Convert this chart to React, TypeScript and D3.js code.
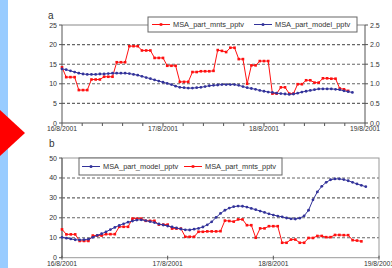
import * as d3 from 'd3';

// hourly values starting 16/8/2001 00:00
const mntsPptv = [
  14.2, 11.7, 11.7, 11.7, 8.4, 8.4, 8.4, 11.1, 11.1, 11.1, 11.8, 11.8, 11.8, 15.5, 15.5, 15.5,
  19.6, 19.6, 19.6, 18.5, 18.5, 18.5, 16.6, 16.6, 16.6, 14.6, 14.6, 14.6, 10.5, 10.5, 10.5,
  13.0, 13.0, 13.2, 13.2, 13.2, 13.3, 18.6, 18.4, 18.1, 19.2, 19.2, 16.3, 16.3, 10.0, 14.7,
  14.7, 15.8, 15.8, 15.8, 7.5, 7.5, 9.1, 9.1, 7.5, 7.5, 9.9, 9.9, 10.9, 10.9, 10.3, 10.3,
  11.4, 11.4, 11.3, 11.3, 8.8, 8.6, 8.2,
];

const modelA = [
  1.38, 1.36, 1.33, 1.3, 1.27, 1.25, 1.24, 1.24, 1.24, 1.25, 1.25, 1.26, 1.27, 1.27, 1.27, 1.27,
  1.26, 1.24, 1.22, 1.19, 1.16, 1.13, 1.1, 1.07, 1.04, 1.01, 0.98, 0.94, 0.91, 0.9, 0.89, 0.89,
  0.9, 0.91, 0.93, 0.95, 0.96, 0.97, 0.98, 0.98, 0.98, 0.98, 0.96, 0.93, 0.9, 0.88, 0.86, 0.83,
  0.81, 0.79, 0.78, 0.76, 0.75, 0.74, 0.73, 0.74, 0.76, 0.79, 0.81, 0.83, 0.85, 0.87, 0.87,
  0.87, 0.87, 0.86, 0.85, 0.82, 0.8, 0.78,
];

const modelB = [
  10.2, 9.8, 9.4, 9.0, 8.9, 9.0, 9.3, 10.2, 11.2, 12.0, 13.0, 14.1, 15.2, 16.2, 17.0, 17.8,
  18.4, 18.9, 19.0, 18.6, 18.1, 17.6, 16.9, 16.4, 15.9, 15.4, 14.9, 14.4, 14.0, 13.9, 14.3,
  14.7, 15.4, 16.5, 18.0, 20.2, 22.2, 23.8, 24.9, 25.6, 25.9, 25.8, 25.4, 24.7, 24.1, 23.4,
  22.7, 22.0, 21.4, 20.9, 20.5, 19.9, 19.5, 19.4, 19.8, 21.0, 23.8, 29.0, 33.0, 35.8, 37.8,
  39.1, 39.5, 39.5, 39.2, 38.6, 37.8, 37.0, 36.3, 35.6,
];

const dayLabels = ['16/8/2001', '17/8/2001', '18/8/2001', '19/8/2001'];
const leftTicksA = [0, 5, 10, 15, 20, 25];
const rightTicksA = [0, 0.5, 1.0, 1.5, 2.0, 2.5];
const leftTicksB = [0, 10, 20, 30, 40, 50];

const RED = '#ff1010';
const BLUE = '#33339a';
const GRID = '#666';
const AXIS = '#555';
const TXT = '#333';
const FONT = '"Liberation Sans", Arial, sans-serif';

const start = new Date(2001, 7, 16);
const hour = (h: number) => new Date(start.getTime() + h * 3600 * 1000);
const days = dayLabels.map((_, i) => hour(i * 24));
const minor = d3.range(0, 72.1, 4.8).map(hour);

function Series({ vals, x, y, color, marker }: any) {
  const line = d3.line<number>().x((_, i) => x(hour(i))).y((d) => y(d));
  return (
    <g>
      <path d={line(vals) || ''} fill="none" stroke={color} strokeWidth={1} />
      {vals.map((v: number, i: number) =>
        marker === 'sq' ? (
          <rect key={i} x={x(hour(i)) - 1.3} y={y(v) - 1.3} width={2.6} height={2.6} fill={color} />
        ) : (
          <circle key={i} cx={x(hour(i))} cy={y(v)} r={1.4} fill={color} />
        )
      )}
    </g>
  );
}

function LegendItem({ x, y, color, marker, label }: any) {
  return (
    <g>
      <line x1={x} x2={x + 18} y1={y} y2={y} stroke={color} strokeWidth={1} />
      {marker === 'sq' ? (
        <rect x={x + 7.7} y={y - 1.3} width={2.6} height={2.6} fill={color} />
      ) : (
        <circle cx={x + 9} cy={y} r={1.5} fill={color} />
      )}
      <text x={x + 21} y={y + 2.6} fontSize={7.4} fill={TXT}>{label}</text>
    </g>
  );
}

export default function App() {
  // panel a
  const xA = d3.scaleTime().domain([days[0], days[3]]).range([62, 365]);
  const yA = d3.scaleLinear().domain([0, 25]).range([123, 25]);
  const yA2 = d3.scaleLinear().domain([0, 2.5]).range([123, 25]);
  // panel b
  const xB = d3.scaleTime().domain([days[0], days[3]]).range([62, 379]);
  const yB = d3.scaleLinear().domain([0, 50]).range([257.7, 158]);

  return (
    <div style={{ position: 'absolute', left: 0, top: 0 }}>
      <svg width={392} height={268} style={{ display: 'block', fontFamily: FONT }}>
        <rect width={392} height={268} fill="#fff" />
        <rect x={0} y={0} width={8} height={268} fill="#99ccff" />
        <path d="M0,110 L25,133 L0,156 Z" fill="#ff0000" />

        {/* panel a */}
        <text x={48} y={19} fontSize={10} fill={TXT}>a</text>
        {leftTicksA.slice(1, -1).map((t) => (
          <line key={t} x1={62} x2={365} y1={yA(t)} y2={yA(t)} stroke={GRID} strokeWidth={1.1} strokeDasharray="3,2" />
        ))}
        <line x1={62} x2={365} y1={25} y2={25} stroke="#888" />
        <line x1={62} x2={365} y1={123} y2={123} stroke={AXIS} />
        <line x1={62} x2={62} y1={25} y2={123} stroke={AXIS} />
        <line x1={365} x2={365} y1={25} y2={123} stroke={AXIS} />
        {leftTicksA.map((t) => (
          <g key={t}>
            <line x1={59} x2={62} y1={yA(t)} y2={yA(t)} stroke={AXIS} />
            <text x={57} y={yA(t) + 2.5} fontSize={7} textAnchor="end" fill={TXT}>{t}</text>
          </g>
        ))}
        {rightTicksA.map((t) => (
          <g key={t}>
            <line x1={365} x2={368} y1={yA2(t)} y2={yA2(t)} stroke={AXIS} />
            <text x={370} y={yA2(t) + 2.5} fontSize={7} fill={TXT}>{t.toFixed(1)}</text>
          </g>
        ))}
        {minor.map((d, i) => (
          <line key={i} x1={xA(d)} x2={xA(d)} y1={123} y2={126} stroke={AXIS} />
        ))}
        {days.map((d, i) => (
          <text key={i} x={xA(d)} y={131} fontSize={6.8} textAnchor="middle" fill={TXT}>{dayLabels[i]}</text>
        ))}
        <Series vals={mntsPptv} x={xA} y={yA} color={RED} marker="sq" />
        <Series vals={modelA} x={xA} y={yA2} color={BLUE} marker="dot" />
        <rect x={148} y={17} width={209} height={15} fill="#fff" stroke="#666" strokeWidth={1} />
        <LegendItem x={152} y={24.5} color={RED} marker="sq" label="MSA_part_mnts_pptv" />
        <LegendItem x={254} y={24.5} color={BLUE} marker="dot" label="MSA_part_model_pptv" />

        {/* panel b */}
        <text x={49} y={147} fontSize={10} fill={TXT}>b</text>
        {leftTicksB.slice(1, -1).map((t) => (
          <line key={t} x1={62} x2={379} y1={yB(t)} y2={yB(t)} stroke={GRID} strokeWidth={1.1} strokeDasharray="3,2" />
        ))}
        <rect x={62} y={158} width={317} height={99.7} fill="none" stroke="#999" />
        <line x1={62} x2={62} y1={158} y2={257.7} stroke={AXIS} />
        {leftTicksB.map((t) => (
          <g key={t}>
            <line x1={59} x2={62} y1={yB(t)} y2={yB(t)} stroke={AXIS} />
            <text x={57} y={yB(t) + 2.5} fontSize={7} textAnchor="end" fill={TXT}>{t}</text>
          </g>
        ))}
        {days.map((d, i) => (
          <g key={i}>
            <line x1={xB(d)} x2={xB(d)} y1={255.7} y2={259.7} stroke={AXIS} />
            <text x={xB(d)} y={266} fontSize={6.8} textAnchor="middle" fill={TXT}>{dayLabels[i]}</text>
          </g>
        ))}
        <Series vals={mntsPptv} x={xB} y={yB} color={RED} marker="sq" />
        <Series vals={modelB} x={xB} y={yB} color={BLUE} marker="dot" />
        <rect x={79} y={158} width={203} height={17} fill="#fff" stroke="#666" strokeWidth={1} />
        <LegendItem x={82} y={166.5} color={BLUE} marker="dot" label="MSA_part_model_pptv" />
        <LegendItem x={184} y={166.5} color={RED} marker="sq" label="MSA_part_mnts_pptv" />
      </svg>
    </div>
  );
}
